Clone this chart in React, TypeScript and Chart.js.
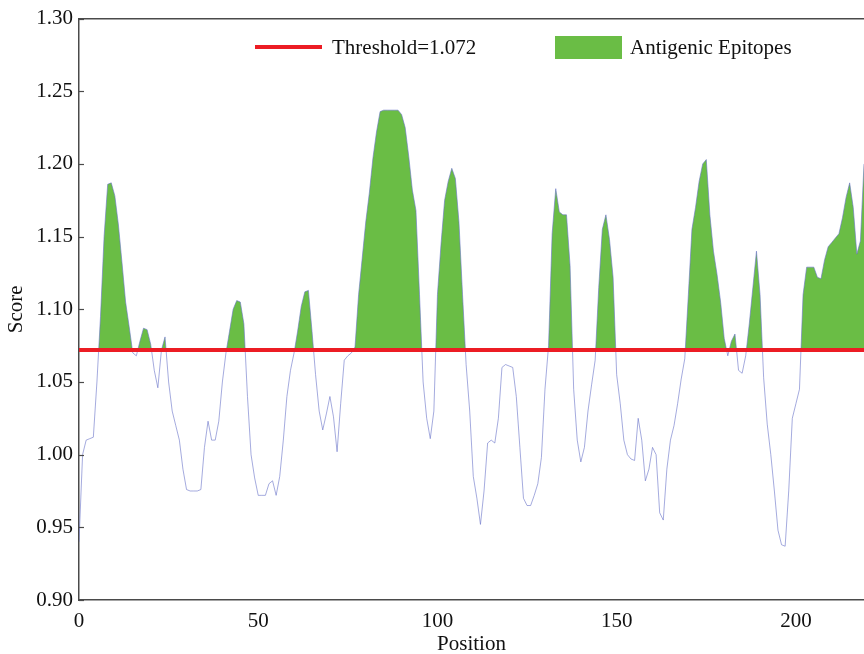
import React, { useEffect, useRef } from "react";
import { Chart, registerables } from "chart.js";

Chart.register(...registerables);

// Antigenicity score per residue position (0..219)
const scores: number[] = [
  0.940, 1.000, 1.010, 1.011, 1.012, 1.050, 1.095, 1.150, 1.186, 1.187,
  1.178, 1.158, 1.132, 1.105, 1.088, 1.070, 1.068, 1.078, 1.087, 1.086,
  1.076, 1.058, 1.046, 1.072, 1.081, 1.050, 1.030, 1.020, 1.010, 0.990,
  0.976, 0.975, 0.975, 0.975, 0.976, 1.005, 1.023, 1.010, 1.010, 1.023,
  1.050, 1.070, 1.085, 1.100, 1.106, 1.105, 1.090, 1.040, 1.000, 0.984,
  0.972, 0.972, 0.972, 0.980, 0.982, 0.972, 0.985, 1.010, 1.040, 1.058,
  1.070, 1.085, 1.102, 1.112, 1.113, 1.085, 1.055, 1.030, 1.017, 1.028,
  1.040, 1.026, 1.002, 1.035, 1.065, 1.068, 1.070, 1.074, 1.110, 1.135,
  1.160, 1.180, 1.204, 1.222, 1.236, 1.237, 1.237, 1.237, 1.237, 1.237,
  1.234, 1.225, 1.205, 1.182, 1.168, 1.110, 1.050, 1.025, 1.011, 1.030,
  1.110, 1.145, 1.175, 1.188, 1.197, 1.190, 1.160, 1.110, 1.062, 1.030,
  0.985, 0.970, 0.952, 0.975, 1.008, 1.010, 1.008, 1.025, 1.060, 1.062,
  1.061, 1.060, 1.040, 1.005, 0.970, 0.965, 0.965, 0.972, 0.980, 0.998,
  1.045, 1.075, 1.152, 1.183, 1.167, 1.165, 1.165, 1.130, 1.045, 1.010,
  0.995, 1.005, 1.030, 1.048, 1.065, 1.115, 1.155, 1.165, 1.148, 1.122,
  1.055, 1.035, 1.010, 1.000, 0.997, 0.996, 1.025, 1.010, 0.982, 0.990,
  1.005, 1.000, 0.960, 0.955, 0.990, 1.010, 1.020, 1.035, 1.052, 1.066,
  1.110, 1.155, 1.170, 1.188, 1.200, 1.203, 1.165, 1.140, 1.124, 1.105,
  1.080, 1.068, 1.078, 1.083, 1.058, 1.056, 1.068, 1.090, 1.115, 1.140,
  1.110, 1.053, 1.021, 1.000, 0.975, 0.948, 0.938, 0.937, 0.975, 1.025,
  1.035, 1.045, 1.110, 1.129, 1.129, 1.129, 1.122, 1.121, 1.134, 1.143,
  1.146, 1.149, 1.152, 1.163, 1.177, 1.187, 1.170, 1.138, 1.147, 1.200,
];

const THRESHOLD = 1.072;
const X_MIN = 0;
const X_MAX = 219;
const xTickValues = [0, 50, 100, 150, 200];
const yTickValues = [0.9, 0.95, 1.0, 1.05, 1.1, 1.15, 1.2, 1.25, 1.3];
const legendLabels = ["Threshold=1.072", "Antigenic Epitopes"];
const xTitle = "Position";
const yTitle = "Score";

const FONT_FAMILY = "'Liberation Serif', 'Times New Roman', serif";
const TEXT_COLOR = "#111111";
const AXIS_COLOR = "#4a4a4a";
const RED = "#ec1c24";
const GREEN = "#6abd45";
const LINE_COLOR = "rgba(105, 115, 200, 0.6)";

const decorPlugin = {
  id: "decor",
  afterDraw(chart: any) {
    const ctx = chart.ctx as CanvasRenderingContext2D;
    const area = chart.chartArea;
    const yScale = chart.scales.y;
    ctx.save();
    // inner tick marks on the y axis
    ctx.strokeStyle = AXIS_COLOR;
    ctx.lineWidth = 1.2;
    yTickValues.forEach((v) => {
      const py = Math.round(yScale.getPixelForValue(v)) + 0.5;
      ctx.beginPath();
      ctx.moveTo(area.left, py);
      ctx.lineTo(area.left + 5, py);
      ctx.stroke();
    });
    // legend
    const ly = 47;
    ctx.strokeStyle = RED;
    ctx.lineWidth = 4;
    ctx.beginPath();
    ctx.moveTo(255, ly);
    ctx.lineTo(322, ly);
    ctx.stroke();
    ctx.fillStyle = TEXT_COLOR;
    ctx.font = `21px ${FONT_FAMILY}`;
    ctx.textBaseline = "middle";
    ctx.textAlign = "left";
    ctx.fillText(legendLabels[0], 332, ly + 1);
    ctx.fillStyle = GREEN;
    ctx.fillRect(555, 36, 67, 23);
    ctx.fillStyle = TEXT_COLOR;
    ctx.fillText(legendLabels[1], 630, ly + 1);
    ctx.restore();
  },
};

export default function App() {
  const canvasRef = useRef<HTMLCanvasElement | null>(null);

  useEffect(() => {
    if (!canvasRef.current) return;
    const font = { family: FONT_FAMILY, size: 21 };
    const scorePoints = scores.map((s, i) => ({ x: i, y: s }));
    const thresholdPoints = [
      { x: X_MIN, y: THRESHOLD },
      { x: X_MAX, y: THRESHOLD },
    ];
    const chart = new Chart(canvasRef.current, {
      type: "line",
      data: {
        datasets: [
          {
            label: legendLabels[0],
            data: thresholdPoints,
            borderColor: RED,
            borderWidth: 4,
            pointRadius: 0,
            fill: false,
          },
          {
            label: legendLabels[1],
            data: scorePoints,
            borderColor: LINE_COLOR,
            borderWidth: 1,
            pointRadius: 0,
            tension: 0,
            fill: {
              target: { value: THRESHOLD },
              above: GREEN,
              below: "rgba(0,0,0,0)",
            },
          },
        ],
      },
      options: {
        animation: false,
        responsive: true,
        maintainAspectRatio: false,
        layout: { padding: 0 },
        plugins: {
          legend: { display: false },
          tooltip: { enabled: false },
        },
        scales: {
          x: {
            type: "linear",
            position: "bottom",
            min: X_MIN,
            max: X_MAX,
            grid: { display: false, drawTicks: false },
            border: { display: true, color: AXIS_COLOR, width: 1.5 },
            ticks: {
              font,
              color: TEXT_COLOR,
              padding: 9,
              includeBounds: false,
              autoSkip: false,
              maxRotation: 0,
            },
            afterBuildTicks: (s: any) => {
              s.ticks = xTickValues.map((v) => ({ value: v }));
            },
            afterFit: (s: any) => {
              s.height = 54;
            },
            title: {
              display: true,
              text: xTitle,
              font,
              color: TEXT_COLOR,
              padding: { top: 0, bottom: -3 },
            },
          },
          xTop: {
            type: "linear",
            position: "top",
            min: X_MIN,
            max: X_MAX,
            grid: { display: false, drawTicks: false },
            border: { display: true, color: AXIS_COLOR, width: 1.5 },
            ticks: { display: false },
            afterFit: (s: any) => {
              s.height = 17;
            },
          },
          y: {
            type: "linear",
            min: 0.9,
            max: 1.3,
            grid: { display: false, drawTicks: false },
            border: { display: true, color: AXIS_COLOR, width: 1.5 },
            ticks: {
              font,
              color: TEXT_COLOR,
              padding: 6,
              callback: (v: any) => Number(v).toFixed(2),
            },
            afterBuildTicks: (s: any) => {
              s.ticks = yTickValues.map((v) => ({ value: v }));
            },
            afterFit: (s: any) => {
              s.width = 79;
            },
            title: {
              display: true,
              text: yTitle,
              font,
              color: TEXT_COLOR,
              padding: { top: 4, bottom: 0 },
            },
          },
        },
      },
      plugins: [decorPlugin],
    });
    return () => chart.destroy();
  }, []);

  return (
    <div
      style={{
        position: "fixed",
        left: 0,
        top: 0,
        width: 864,
        height: 654,
        background: "#ffffff",
      }}
    >
      <canvas ref={canvasRef} />
    </div>
  );
}
